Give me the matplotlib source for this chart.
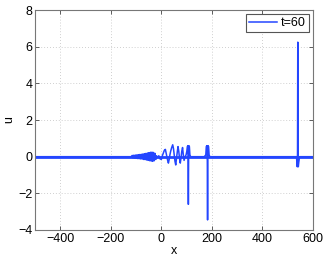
import matplotlib
matplotlib.use("Agg")
import matplotlib.pyplot as plt

# background band (thin noise around zero)
base_x = [-500, 600]
base_u = [0.0, 0.0]

# wave packet and solitons, key points
x_pts = [-500, -120, -115, -112, -109, -106, -103, -100, -97, -94, -91, -88, -85, -82, -79, -76,
         -73, -70, -67, -64, -61, -58, -55, -52, -49, -46, -43, -40, -37, -34, -31, -28, -25, -22,
         -19, -15, -10, -5, 0, 4, 8, 12, 16, 19, 22, 25, 28, 31, 34, 37, 41, 45, 48, 51, 54, 57,
         60, 63, 66, 69, 72, 75, 78, 81, 84, 87, 90, 94, 98, 101, 103, 105, 106, 107, 108, 109,
         111, 113, 116, 120, 170, 176, 178, 180, 181, 182, 183, 184, 185, 187, 189, 192, 200,
         530, 535, 537, 538, 539, 540, 541, 542, 544, 547, 600]
u_pts = [0.0, 0.0, 0.07, -0.07, 0.08, -0.08, 0.09, -0.09, 0.1, -0.1, 0.11, -0.11, 0.12, -0.12, 0.13, -0.13,
         0.15, -0.15, 0.16, -0.16, 0.18, -0.18, 0.2, -0.2, 0.22, -0.22, 0.24, -0.24, 0.25, -0.25, 0.23, -0.22, 0.18, -0.15,
         0.05, -0.05, 0.05, -0.12, -0.15, 0.05, 0.2, 0.35, 0.4, 0.2, 0.0, -0.2, -0.35, -0.15, 0.1, 0.3, 0.5, 0.65, 0.45, 0.1, -0.25, -0.45,
         -0.1, 0.25, 0.55, 0.3, -0.1, -0.35, -0.05, 0.3, 0.5, 0.1, -0.2, 0.0, 0.1, 0.3, 0.55, 0.6, 0.1, -2.6, 0.2, 0.6,
         0.55, 0.1, 0.0, 0.0, 0.0, 0.1, 0.55, 0.6, 0.1, -0.2, -3.45, 0.2, 0.6, 0.55, 0.1, 0.0, 0.0,
         0.0, 0.0, -0.45, -0.55, 0.2, 6.25, 0.1, -0.55, -0.3, 0.0, 0.0]

xticks = [-400, -200, 0, 200, 400, 600]
yticks = [-4, -2, 0, 2, 4, 6, 8]

plt.rcParams['font.family'] = ['Liberation Sans', 'DejaVu Sans']
fig = plt.figure(figsize=(3.27, 2.59), dpi=100)
ax = fig.add_axes([0.107, 0.112, 0.85, 0.849])

col = '#2446ff'
ax.plot(base_x, base_u, color=col, lw=2.0, solid_capstyle='butt')
ax.plot(x_pts, u_pts, color=col, lw=1.1, label='t=60')

ax.set_xlim(-500, 600)
ax.set_ylim(-4, 8)
ax.set_xticks(xticks)
ax.set_yticks(yticks)
ax.set_xticklabels([('\u2212' + str(-v)) if v < 0 else str(v) for v in xticks])
ax.set_yticklabels([('\u2212' + str(-v)) if v < 0 else str(v) for v in yticks])
ax.tick_params(direction='in', length=3, width=0.6, labelsize=9, top=True, right=True,
               colors='#444444', labelcolor='black', pad=2)
ax.grid(True, linestyle=(0, (1, 2.5)), color='#c0c0c0', linewidth=0.6)
for s in ax.spines.values():
    s.set_color('#777777')
    s.set_linewidth(0.8)
ax.set_xlabel('x', fontsize=9, labelpad=0)
ax.set_ylabel('u', fontsize=9, labelpad=2)

leg = ax.legend(loc='upper right', fontsize=9, fancybox=False, framealpha=1,
                edgecolor='#555555', handlelength=2.3, borderpad=0.25,
                handletextpad=0.3, borderaxespad=0.3)
leg.get_frame().set_linewidth(0.8)

fig.savefig('out.png', dpi=100)
